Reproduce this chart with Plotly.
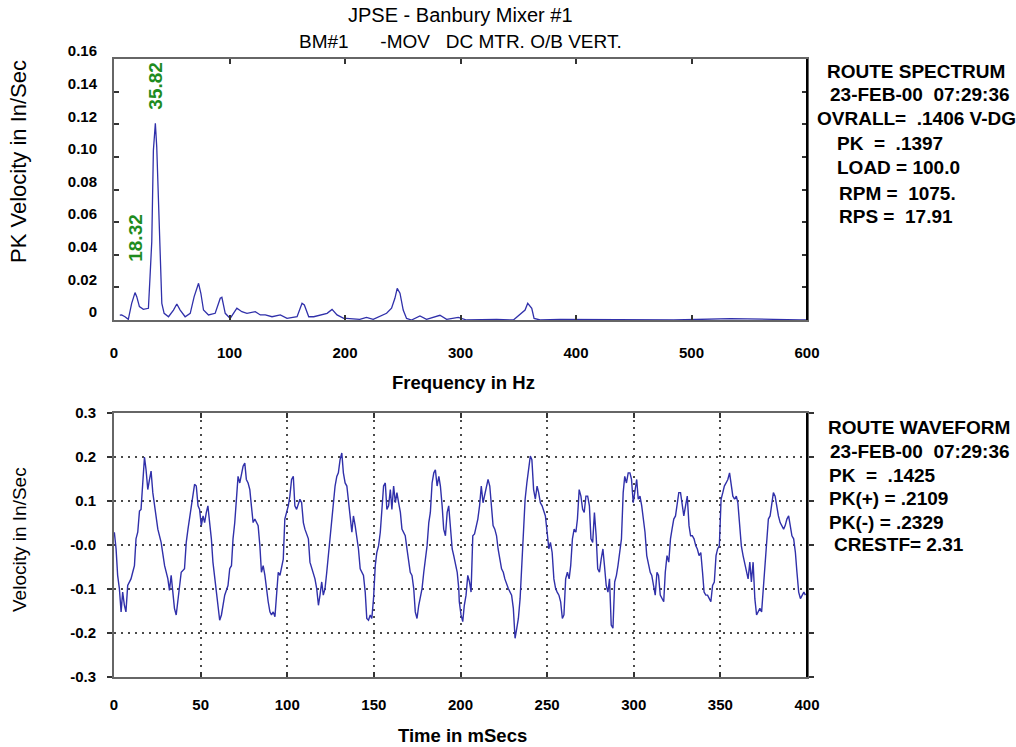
import plotly.graph_objects as go

# ---------------- data ----------------
spec_freq_hz = [5.0, 6.6, 9.5, 12.4, 15.3, 18.2, 19.7, 22.0, 25.4, 29.8, 31.2, 32.7, 34.1, 35.8, 37.0,
                38.5, 39.9, 41.4, 43.4, 47.2, 51.5, 54.4, 57.3, 61.6, 66.0, 69.4, 73.2, 75.2, 77.5, 81.8,
                87.6, 92.0, 93.4, 96.3, 100.6, 106.4, 110.7, 115.1, 122.3, 126.7, 131.0, 136.8, 144.0,
                149.8, 158.5, 162.8, 164.8, 168.6, 172.9, 178.7, 184.5, 188.8, 193.1, 198.9, 201.2,
                212.8, 218.6, 224.4, 230.2, 236.0, 240.3, 243.2, 245.2, 247.6, 250.4, 253.3, 257.6,
                264.9, 270.6, 282.2, 288.0, 298.1, 305.3, 331.3, 345.8, 355.9, 358.2, 361.7, 363.7,
                368.9, 386.3, 397.8, 420.9, 435.4, 484.5, 533.6, 554.0, 571.0, 594.3, 600.0]
spec_pk_ips = [0.003, 0.0031, 0.002, 0.0004, 0.0102, 0.0168, 0.0143, 0.0082, 0.0065, 0.0072, 0.0266,
               0.048, 0.104, 0.1206, 0.106, 0.0736, 0.0327, 0.0102, 0.0041, 0.002, 0.0061, 0.0098,
               0.0061, 0.002, 0.0041, 0.0143, 0.0225, 0.0164, 0.0061, 0.0031, 0.0041, 0.0133, 0.0139,
               0.0041, 0.001, 0.0072, 0.0051, 0.0041, 0.0051, 0.0031, 0.0031, 0.002, 0.0031, 0.001,
               0.002, 0.0102, 0.0092, 0.002, 0.002, 0.0031, 0.0041, 0.0065, 0.0031, 0.001, 0.001,
               0.0004, 0.0016, 0.0004, 0.0025, 0.0041, 0.0072, 0.0133, 0.0194, 0.0164, 0.0061, 0.001,
               0.0, 0.0025, 0.0004, 0.0029, 0.0004, 0.0016, 0.0, 0.0004, 0.0, 0.0061, 0.0102, 0.0072,
               0.001, 0.0, 0.0004, 0.0004, 0.0004, 0.0, 0.0, 0.0008, 0.0008, 0.0004, 0.0, 0.0]

peak_freqs = [18.32, 35.82]
peak_amps = [0.0168, 0.1206]

wave_time_ms = [
    0.2, 1.2, 2.1, 3.1, 4.1, 5.0, 6.0, 6.9, 7.9, 9.8, 10.8, 11.8, 12.7, 13.7, 14.7, 15.6, 16.6, 17.6,
    18.5, 19.5, 20.5, 21.4, 22.4, 23.4, 24.3, 25.3, 27.2, 29.2, 31.1, 32.0, 33.0, 34.0, 34.9, 35.9,
    36.9, 37.8, 38.8, 40.7, 41.7, 42.7, 44.6, 45.6, 46.5, 47.5, 48.5, 49.4, 50.4, 51.4, 52.3, 53.3,
    54.2, 55.2, 56.2, 57.1, 58.1, 60.0, 61.0, 62.0, 63.9, 65.8, 66.8, 67.8, 68.7, 69.7, 70.7, 71.6,
    72.6, 73.6, 74.5, 75.5, 76.4, 77.4, 78.4, 79.3, 80.3, 81.3, 83.2, 84.2, 85.1, 86.1, 87.1, 89.0,
    90.0, 90.9, 91.9, 92.9, 93.8, 94.8, 95.8, 97.7, 98.6, 100.6, 101.5, 102.5, 103.5, 104.4, 105.4,
    106.4, 107.3, 108.3, 109.3, 110.2, 112.2, 113.1, 114.1, 116.0, 117.0, 118.0, 118.9, 119.9, 120.8,
    121.8, 122.8, 124.7, 125.7, 126.6, 127.6, 128.6, 129.5, 130.5, 131.5, 132.4, 133.4, 134.4, 135.3,
    136.3, 137.3, 138.2, 139.2, 141.1, 142.1, 144.0, 145.0, 145.9, 146.9, 147.9, 148.8, 149.8, 150.8,
    151.7, 152.7, 153.7, 154.6, 155.6, 156.6, 157.5, 158.5, 159.5, 160.4, 161.4, 162.4, 163.3, 164.3,
    165.3, 166.2, 168.1, 169.1, 170.1, 171.0, 172.0, 173.0, 173.9, 174.9, 175.9, 176.8, 177.8, 178.8,
    180.7, 181.7, 182.6, 183.6, 184.6, 185.5, 186.5, 187.5, 188.4, 189.4, 190.3, 191.3, 192.3, 193.2,
    195.2, 196.1, 198.1, 199.0, 199.3, 200.3, 201.3, 202.2, 203.2, 204.2, 205.2, 206.1, 207.1, 208.1,
    209.1, 210.0, 211.0, 212.0, 213.0, 213.9, 214.9, 215.9, 216.9, 217.8, 218.8, 219.8, 220.8, 221.7,
    223.7, 224.7, 225.6, 227.6, 228.6, 229.5, 230.5, 231.5, 232.5, 233.4, 234.4, 235.4, 236.4, 237.3,
    238.3, 239.3, 240.3, 241.2, 242.2, 243.2, 244.2, 245.1, 246.1, 247.1, 248.1, 249.0, 250.0, 251.0,
    251.9, 252.9, 253.9, 254.9, 255.8, 256.8, 257.8, 258.8, 259.7, 260.7, 261.7, 262.7, 263.6, 264.6,
    265.6, 266.6, 267.5, 268.5, 269.5, 270.5, 271.4, 272.4, 273.4, 274.4, 275.3, 276.3, 277.3, 278.3,
    279.2, 280.2, 281.2, 282.2, 283.1, 284.1, 285.1, 286.0, 287.0, 288.0, 289.0, 290.0, 290.9, 291.9,
    292.9, 293.9, 294.8, 295.8, 296.8, 297.8, 298.7, 299.7, 300.7, 301.7, 302.6, 303.6, 304.6, 305.6,
    306.5, 307.5, 308.5, 309.5, 310.4, 311.4, 312.4, 313.4, 314.3, 315.3, 316.3, 317.3, 318.2, 319.2,
    320.2, 321.2, 322.1, 323.1, 324.1, 325.0, 326.0, 327.0, 328.0, 328.9, 329.9, 330.9, 331.9, 332.8,
    333.8, 334.8, 335.8, 336.7, 337.7, 338.7, 339.7, 340.6, 341.6, 342.6, 343.6, 344.5, 345.5, 346.5,
    347.5, 348.4, 349.4, 350.4, 351.4, 352.3, 353.3, 354.3, 355.3, 356.2, 357.2, 358.2, 359.2, 360.1,
    361.1, 362.1, 363.1, 364.0, 365.0, 366.0, 367.0, 367.9, 368.9, 369.9, 370.9, 371.8, 372.8, 373.8,
    374.8, 375.7, 376.7, 377.7, 378.7, 379.6, 380.6, 381.6, 382.6, 383.5, 384.5, 385.5, 386.5, 387.4,
    388.4, 389.4, 390.4, 391.3, 392.3, 393.3, 394.2, 395.2, 396.2, 397.2, 398.2, 399.1]
wave_velocity_ips = [
    0.029, -0.009, -0.069, -0.099, -0.152, -0.107, -0.137, -0.152, -0.092, -0.077, -0.062, -0.047,
    0.014, 0.029, 0.077, 0.081, 0.141, 0.200, 0.171, 0.126, 0.149, 0.168, 0.119, 0.089, 0.059, 0.036,
    0.006, -0.047, -0.077, -0.103, -0.069, -0.107, -0.144, -0.159, -0.129, -0.092, -0.062, -0.054,
    0.006, 0.036, 0.089, 0.111, 0.138, 0.134, 0.089, 0.081, 0.044, 0.066, 0.051, 0.074, 0.089, 0.051,
    0.014, -0.039, -0.077, -0.144, -0.171, -0.159, -0.114, -0.092, -0.054, -0.047, 0.014, 0.051,
    0.104, 0.156, 0.141, 0.164, 0.179, 0.186, 0.149, 0.141, 0.126, 0.089, 0.051, 0.059, 0.044, -0.002,
    -0.062, -0.047, -0.069, -0.129, -0.152, -0.159, -0.152, -0.163, -0.114, -0.062, -0.069, -0.032,
    0.059, 0.089, 0.111, 0.149, 0.156, 0.089, 0.081, 0.096, 0.104, 0.096, 0.051, 0.036, 0.014, -0.039,
    -0.054, -0.077, -0.099, -0.137, -0.114, -0.084, -0.114, -0.099, -0.062, 0.014, 0.044, 0.081,
    0.134, 0.156, 0.164, 0.194, 0.209, 0.164, 0.141, 0.134, 0.104, 0.066, 0.029, 0.066, 0.044, -0.009,
    -0.054, -0.069, -0.107, -0.167, -0.171, -0.159, -0.167, -0.122, -0.047, -0.017, -0.002, 0.029,
    0.074, 0.134, 0.141, 0.081, 0.089, 0.126, 0.081, 0.134, 0.096, 0.119, 0.096, 0.074, 0.036, 0.021,
    -0.009, -0.039, -0.062, -0.069, -0.099, -0.152, -0.167, -0.137, -0.114, -0.099, -0.062, -0.002,
    0.051, 0.074, 0.141, 0.164, 0.171, 0.134, 0.156, 0.134, 0.089, 0.036, 0.021, 0.074, 0.089, -0.009,
    -0.024, -0.062, -0.099, -0.129, -0.159, -0.174, -0.137, -0.114, -0.069, -0.084, -0.107, 0.021,
    0.025, 0.044, 0.059, 0.089, 0.134, 0.096, 0.111, 0.126, 0.149, 0.134, 0.089, 0.044, 0.036, 0.021,
    -0.009, -0.054, -0.062, -0.077, -0.099, -0.107, -0.114, -0.144, -0.212, -0.189, -0.167, -0.122,
    -0.039, 0.021, 0.104, 0.141, 0.171, 0.202, 0.194, 0.126, 0.104, 0.134, 0.119, 0.096, 0.089, 0.074,
    0.066, 0.029, -0.009, 0.006, -0.017, -0.077, -0.099, -0.107, -0.114, -0.129, -0.167, -0.159,
    -0.077, -0.062, -0.077, -0.047, 0.014, 0.036, 0.029, 0.059, 0.126, 0.111, 0.081, 0.074, 0.111,
    0.111, 0.089, 0.014, 0.006, 0.074, 0.021, -0.054, -0.062, -0.032, -0.009, -0.047, -0.092, -0.107,
    -0.077, -0.182, -0.189, -0.084, -0.069, -0.047, -0.009, 0.014, 0.119, 0.156, 0.141, 0.164, 0.164,
    0.149, 0.096, 0.119, 0.149, 0.104, 0.111, 0.089, 0.059, 0.029, -0.024, -0.047, -0.062, -0.069,
    -0.092, -0.114, -0.062, -0.069, -0.114, -0.122, -0.129, -0.062, -0.024, -0.039, 0.014, 0.036,
    0.059, 0.066, 0.089, 0.119, 0.119, 0.089, 0.066, 0.089, 0.111, 0.044, 0.021, 0.021, 0.014, -0.002,
    -0.009, -0.024, -0.017, -0.062, -0.107, -0.114, -0.114, -0.122, -0.129, -0.092, -0.084, -0.024,
    -0.009, -0.002, 0.104, 0.119, 0.134, 0.141, 0.149, 0.164, 0.134, 0.111, 0.104, 0.111, 0.096,
    0.051, -0.002, -0.024, -0.039, -0.062, -0.077, -0.039, -0.084, -0.039, -0.122, -0.159, -0.152,
    -0.144, -0.152, -0.092, -0.054, 0.014, 0.059, 0.066, 0.089, 0.119, 0.111, 0.081, 0.066, 0.051,
    0.044, 0.036, 0.044, 0.059, 0.066, 0.036, 0.021, 0.014, -0.017, -0.062, -0.107, -0.122, -0.114,
    -0.107, -0.114]

spec_x_ticks = [0, 100, 200, 300, 400, 500, 600]
spec_y_ticks = [0, 0.02, 0.04, 0.06, 0.08, 0.10, 0.12, 0.14, 0.16]
spec_y_ticktext = ["0", "0.02", "0.04", "0.06", "0.08", "0.10", "0.12", "0.14", "0.16"]
wave_x_ticks = [0, 50, 100, 150, 200, 250, 300, 350, 400]
wave_y_ticks = [-0.3, -0.2, -0.1, 0.0, 0.1, 0.2, 0.3]
wave_y_ticktext = ["-0.3", "-0.2", "-0.1", "-0.0", "0.1", "0.2", "0.3"]

title_lines = ["JPSE - Banbury Mixer #1",
               "BM#1\u00a0\u00a0\u00a0\u00a0\u00a0\u00a0-MOV\u00a0\u00a0\u00a0DC MTR. O/B VERT."]
spectrum_info = ["ROUTE SPECTRUM", "23-FEB-00\u00a0\u00a007:29:36", "OVRALL=\u00a0\u00a0.1406 V-DG",
                 "PK\u00a0\u00a0=\u00a0\u00a0.1397", "LOAD = 100.0", "RPM =\u00a0\u00a01075.",
                 "RPS =\u00a0\u00a017.91"]
waveform_info = ["ROUTE WAVEFORM", "23-FEB-00\u00a0\u00a007:29:36", "PK\u00a0\u00a0=\u00a0\u00a0.1425",
                 "PK(+) = .2109", "PK(-) = .2329", "CRESTF= 2.31"]

# ---------------- layout geometry (pixels) ----------------
W, H = 1016, 747
L, R, T, B = 114, 807, 59, 677
def px(xp):
    return (xp - L) / (R - L)
def py(yp):
    return (B - yp) / (B - T)

FONT = "Liberation Sans, Arial, sans-serif"
LINE_COLOR = "#3030aa"
FRAME = "#666666"

fig = go.Figure()
fig.add_trace(go.Scatter(x=spec_freq_hz, y=spec_pk_ips, mode="lines",
                         line=dict(color=LINE_COLOR, width=1.3), xaxis="x", yaxis="y",
                         showlegend=False, hoverinfo="skip"))
fig.add_trace(go.Scatter(x=wave_time_ms, y=wave_velocity_ips, mode="lines",
                         line=dict(color=LINE_COLOR, width=1.4), xaxis="x2", yaxis="y2",
                         showlegend=False, hoverinfo="skip"))

tickfont = dict(family=FONT, size=15, color="black", weight="bold")
axis_common = dict(showline=True, linecolor=FRAME, linewidth=2, mirror="ticks",
                   zeroline=False, tickfont=tickfont, tickcolor="#333", ticklen=5, tickwidth=1.5)

top_dom = [py(320), 1.0]
bot_dom = [0.0, py(413)]

fig.update_layout(
    width=W, height=H,
    margin=dict(l=L, r=W - R, t=T, b=H - B, pad=0),
    paper_bgcolor="white", plot_bgcolor="white",
    font=dict(family=FONT, color="black"),
    xaxis=dict(domain=[0, 1], anchor="y", range=[0, 600], tickvals=spec_x_ticks,
               ticks="inside", showgrid=False, ticklabelstandoff=18, **axis_common),
    yaxis=dict(domain=top_dom, anchor="x", range=[0, 0.16], tickvals=spec_y_ticks,
               ticktext=spec_y_ticktext, ticks="inside", showgrid=False,
               ticklabelstandoff=12, ticklabelshift=-8, **axis_common),
    xaxis2=dict(domain=[0, 1], anchor="y2", range=[0, 400], tickvals=wave_x_ticks,
                ticks="inside", showgrid=True, gridcolor="#4a4a4a", gridwidth=1.6,
                griddash="2px,5px", ticklabelstandoff=13, **axis_common),
    yaxis2=dict(domain=bot_dom, anchor="x2", range=[-0.3, 0.3], tickvals=wave_y_ticks,
                ticktext=wave_y_ticktext, ticks="outside", showgrid=True, gridcolor="#4a4a4a",
                gridwidth=1.6, griddash="2px,5px", ticklabelstandoff=8, **axis_common),
)

# black right-hand frame edges
for dom in (top_dom, bot_dom):
    fig.add_shape(type="line", xref="paper", yref="paper", x0=1, x1=1, y0=dom[0], y1=dom[1],
                  line=dict(color="black", width=2))

ann = []
# titles
for text, yp, size in zip(title_lines, [15, 42], [20, 19]):
    ann.append(dict(text=text, x=px(461), y=py(yp), xref="paper", yref="paper",
                    xanchor="center", yanchor="middle", showarrow=False,
                    font=dict(family=FONT, size=size, color="black")))
# axis titles
ann.append(dict(text="PK Velocity in In/Sec", x=px(19), y=py(162), xref="paper", yref="paper",
                textangle=-90, xanchor="center", yanchor="middle", showarrow=False,
                font=dict(family=FONT, size=22, color="black")))
ann.append(dict(text="Frequency in Hz", x=px(463), y=py(382), xref="paper", yref="paper",
                xanchor="center", yanchor="middle", showarrow=False,
                font=dict(family=FONT, size=18.5, color="black", weight="bold")))
ann.append(dict(text="Velocity in In/Sec", x=px(19), y=py(540), xref="paper", yref="paper",
                textangle=-90, xanchor="center", yanchor="middle", showarrow=False,
                font=dict(family=FONT, size=19, color="black")))
ann.append(dict(text="Time in mSecs", x=px(462), y=py(735), xref="paper", yref="paper",
                xanchor="center", yanchor="middle", showarrow=False,
                font=dict(family=FONT, size=18.5, color="black", weight="bold")))
# peak labels
for f, a, shift in zip(peak_freqs, peak_amps, [30, 13]):
    ann.append(dict(text=f"{f:.2f}", x=f, y=a, xref="x", yref="y", textangle=-90,
                    xanchor="center", yanchor="bottom", yshift=shift, showarrow=False,
                    bgcolor="white", borderpad=0,
                    font=dict(family=FONT, size=19, color="#1e8c1e", weight="bold")))
# info blocks
spec_x = [825, 828, 815, 835, 835, 837, 837]
spec_y = [71, 95, 119, 143, 168, 193, 217]
for text, xp, yp in zip(spectrum_info, spec_x, spec_y):
    ann.append(dict(text=text, x=px(xp), y=py(yp), xref="paper", yref="paper",
                    xanchor="left", yanchor="middle", showarrow=False,
                    font=dict(family=FONT, size=19, color="black", weight="bold")))
wave_x = [826, 828, 827, 827, 827, 832]
wave_y = [427, 452, 475, 498, 522, 544]
for text, xp, yp in zip(waveform_info, wave_x, wave_y):
    ann.append(dict(text=text, x=px(xp), y=py(yp), xref="paper", yref="paper",
                    xanchor="left", yanchor="middle", showarrow=False,
                    font=dict(family=FONT, size=19, color="black", weight="bold")))

fig.update_layout(annotations=ann)
fig.write_html("out.html")
